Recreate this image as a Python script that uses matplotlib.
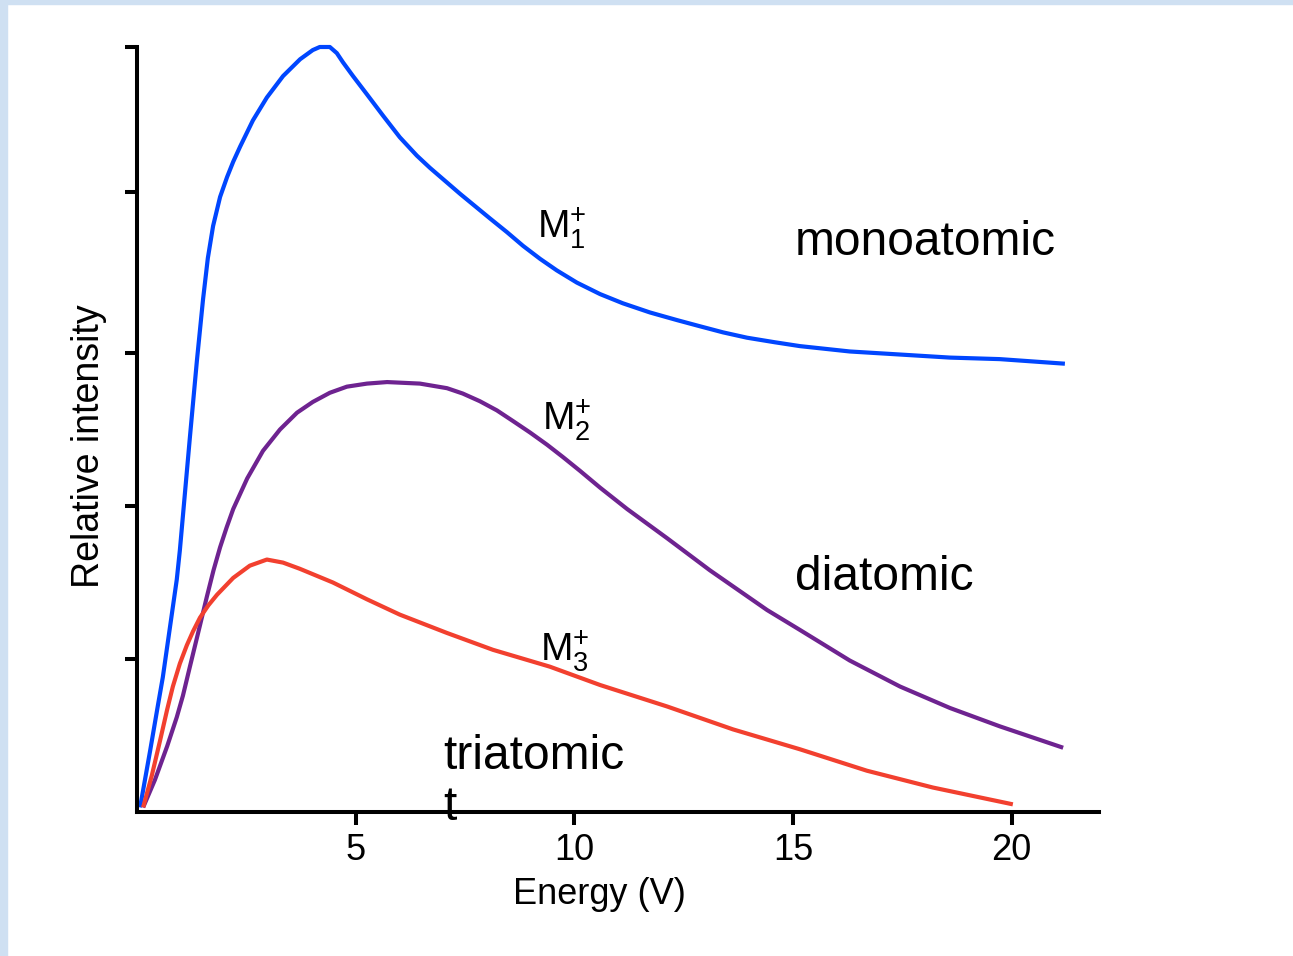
import matplotlib

matplotlib.use("Agg")
import matplotlib.pyplot as plt
from matplotlib.patches import Rectangle

# energy (V) / relative intensity
mono_energy = [0.07, 0.30, 0.48, 0.59, 0.80, 0.91, 0.98, 1.21, 1.37, 1.51, 1.62, 1.74, 1.90,
               2.06, 2.20, 2.36, 2.65, 2.97, 3.34, 3.73, 4.02, 4.18, 4.41, 4.57, 4.71, 4.94, 5.26,
               5.63, 6.01, 6.40, 6.70, 7.39, 8.07, 8.46, 8.83, 9.22, 9.60, 10.06, 10.59, 11.11,
               11.73, 12.35, 12.87, 13.40, 13.95, 14.59, 15.16, 16.30, 17.45, 18.59, 19.73, 21.22]
mono_intensity = [0.03, 0.40, 0.70, 0.88, 1.30, 1.52, 1.71, 2.45, 2.95, 3.35, 3.62, 3.83, 4.02,
                  4.15, 4.25, 4.35, 4.52, 4.67, 4.81, 4.92, 4.98, 5.00, 5.00, 4.96, 4.90, 4.81, 4.69,
                  4.55, 4.41, 4.29, 4.21, 4.04, 3.88, 3.79, 3.70, 3.615, 3.54, 3.46, 3.385, 3.325,
                  3.265, 3.215, 3.175, 3.135, 3.10, 3.07, 3.045, 3.01, 2.99, 2.97, 2.96, 2.93]

di_energy = [0.14, 0.41, 0.69, 0.91, 1.05, 1.21, 1.44, 1.60, 1.75, 1.90, 2.05, 2.20, 2.52, 2.88,
             3.27, 3.66, 4.02, 4.41, 4.80, 5.26, 5.72, 6.47, 7.09, 7.45, 7.84, 8.23, 8.60, 8.99,
             9.38, 9.74, 10.13, 10.59, 11.21, 12.12, 13.10, 14.41, 15.16, 16.30, 17.45, 18.59,
             19.73, 21.18]
di_intensity = [0.03, 0.21, 0.43, 0.62, 0.76, 0.95, 1.22, 1.41, 1.58, 1.73, 1.86, 1.98, 2.18, 2.36,
                2.50, 2.61, 2.68, 2.74, 2.78, 2.80, 2.81, 2.80, 2.77, 2.735, 2.685, 2.625, 2.555,
                2.48, 2.40, 2.32, 2.23, 2.12, 1.98, 1.79, 1.58, 1.32, 1.19, 0.99, 0.82, 0.68, 0.56,
                0.42]

tri_energy = [0.14, 0.34, 0.53, 0.69, 0.82, 0.98, 1.14, 1.28, 1.44, 1.63, 1.83, 2.20, 2.58, 2.97,
              3.34, 3.72, 4.48, 5.26, 6.01, 7.09, 8.14, 9.44, 10.59, 12.12, 13.63, 15.16, 16.69,
              18.20, 20.03]
tri_intensity = [0.03, 0.24, 0.47, 0.67, 0.82, 0.97, 1.09, 1.18, 1.27, 1.35, 1.42, 1.53, 1.61, 1.65,
                 1.63, 1.59, 1.50, 1.39, 1.29, 1.17, 1.06, 0.95, 0.83, 0.69, 0.54, 0.41, 0.27,
                 0.16, 0.05]

x_ticks = [5, 10, 15, 20]
y_ticks = [1.0, 2.0, 3.0, 4.05, 5.0]

curve_labels = [r"$\mathrm{M}_{1}^{+}$", r"$\mathrm{M}_{2}^{+}$", r"$\mathrm{M}_{3}^{+}$"]
curve_label_pos = [(9.15, 3.75), (9.26, 2.50), (9.22, 0.99)]
kind_labels = ["monoatomic", "diatomic", "triatomic\nt"]
kind_label_pos = [(15.05, 3.64), (15.05, 1.45), (7.0, -0.05)]

plt.rcParams["font.family"] = ["Liberation Sans", "DejaVu Sans"]
plt.rcParams["mathtext.fontset"] = "custom"
plt.rcParams["mathtext.rm"] = "Liberation Sans"
plt.rcParams["mathtext.it"] = "Liberation Sans:italic"
plt.rcParams["mathtext.bf"] = "Liberation Sans:bold"

fig = plt.figure(figsize=(12.93, 9.56), dpi=100)
fig.patches.append(Rectangle((0, 0), 7 / 1293, 1, transform=fig.transFigure,
                             color="#cfe0f2", zorder=-1))
fig.patches.append(Rectangle((0, 1 - 4 / 956), 1, 4 / 956, transform=fig.transFigure,
                             color="#cfe0f2", zorder=-1))

ax = fig.add_axes([137 / 1293, 144 / 956, 962 / 1293, 765 / 956])
line_style = dict(lw=3, solid_joinstyle="round", solid_capstyle="butt", clip_on=False)
ax.plot(mono_energy, mono_intensity, color="#0046ff", **line_style)
ax.plot(di_energy, di_intensity, color="#6e2390", **line_style)
ax.plot(tri_energy, tri_intensity, color="#f2402f", **line_style)

for label, (x, y) in zip(curve_labels, curve_label_pos):
    ax.text(x, y, label, fontsize=28, ha="left", va="baseline")
for label, (x, y) in zip(kind_labels, kind_label_pos):
    ax.text(x, y, label, fontsize=34.5, ha="left", va="baseline", linespacing=1.15,
            clip_on=False)

ax.set_xlim(0, 22)
ax.set_ylim(0, 5)
ax.set_xticks(x_ticks)
ax.set_yticks(y_ticks)
ax.set_yticklabels([])
ax.tick_params(width=2.9, length=9, labelsize=26, pad=6, color="black")
for side in ("top", "right"):
    ax.spines[side].set_visible(False)
for side in ("left", "bottom"):
    ax.spines[side].set_linewidth(2.9)

ax.set_xlabel("Energy (V)", fontsize=26)
ax.xaxis.set_label_coords(0.481, -0.085)
ax.set_ylabel("Relative intensity", fontsize=27)
ax.yaxis.set_label_coords(-0.031, 0.478)

fig.savefig("out.png", dpi=100)
